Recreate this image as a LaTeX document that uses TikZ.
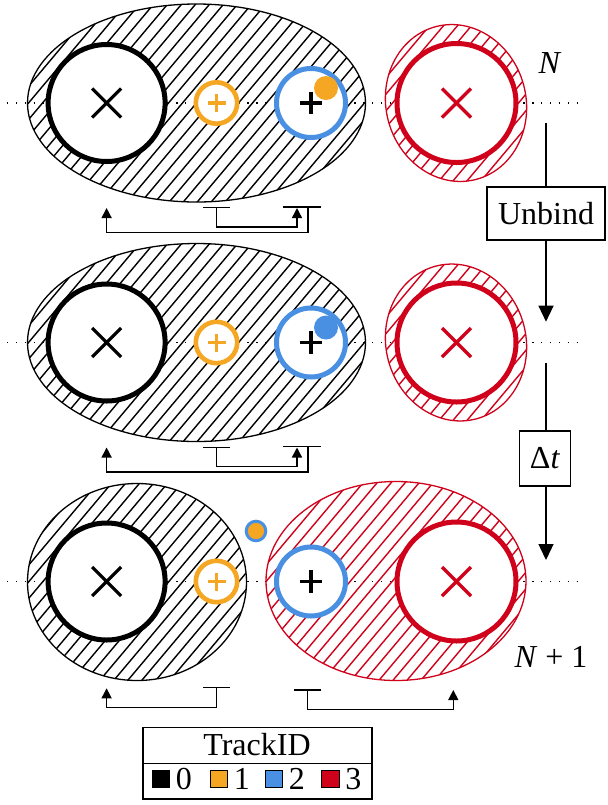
\documentclass[tikz,border=0pt]{standalone}
\usepackage{fontspec}
\setmainfont{Liberation Serif}
\usepackage{xcolor}
\definecolor{corange}{RGB}{245,166,35}
\definecolor{cblue}{RGB}{74,144,226}
\definecolor{cred}{RGB}{208,2,27}
\usepackage{tikz}
\usetikzlibrary{arrows.meta, positioning}
\tikzset{
Track/.style={
	draw, circle,
	fill=white,
	inner sep=0pt
},
Track0/.style={
	Track,
	draw=black, line width=2.5pt,
	minimum size=58.5pt
},
Track1/.style={
	Track,
	draw=corange, line width=2.3pt,
	minimum size=20.7pt
},
Track2/.style={
	Track,
	draw=cblue, line width=2.5pt,
	minimum size=34.5pt
},
Track3/.style={
	Track,
	draw=cred, line width=2.5pt,
	minimum size=59.5pt
},
Dot/.style={
	circle, inner sep=0pt,
	minimum size=12pt
},
Hatch/.style={line width=0.7pt},
Region/.style={line width=0.65pt},
Axis/.style={line width=0.7pt, dash pattern=on 0.7pt off 3.75pt},
Cross/.style={line width=1.65pt},
Plus/.style={line width=1.9pt},
Link/.style={
	line width=0.7pt,
	{Bar[width=13.5pt]}-{Triangle[length=5pt,width=5pt]}
},
StepBox/.style={
	draw, line width=0.65pt,
	inner sep=0pt
},
Flow/.style={line width=0.65pt},
FlowArrow/.style={Flow, -{Triangle[length=8pt,width=7.5pt]}},
Key/.style={
	draw, line width=0.6pt,
	minimum size=8.8pt, inner sep=0pt
},
KeyLabel/.style={inner sep=0pt}
}
% hatched region: colour, x, y, ellipse options
\newcommand{\hatchregion}[4]{%
	\begin{scope}
		\clip (#2,#3) ellipse [#4];
		\foreach \c in {-190,-176,...,600}
			\draw[Hatch, #1] (\c,#3+110) -- ++(185,-220);
	\end{scope}
	\draw[Region, #1] (#2,#3) ellipse [#4];
}

\begin{document}
\begin{tikzpicture}[x=0.5pt, y=-0.5pt, font=\fontsize{16}{19}\selectfont]
	\useasboundingbox (0,0) rectangle (608,805);

	\foreach \i/\yc/\dotc in {1/103/corange, 2/342.5/cblue}{
		\draw[Axis] (7,\yc) -- (579,\yc);
		\hatchregion{black}{196.5}{\yc}{x radius=169, y radius=99}
		\hatchregion{cred}{456}{\yc}{x radius=70, y radius=79, rotate=15}

		\node[Track0] (k\i) at (106.6,\yc) {};
		\node[Track1] (o\i) at (216.5,\yc) {};
		\node[Track2] (b\i) at (311,\yc) {};
		\node[Track3] (r\i) at (456.5,\yc) {};

		\draw[Cross] (k\i.center) +(-14.5,-14.5) -- +(14.5,14.5) +(-14.5,14.5) -- +(14.5,-14.5);
		\draw[Cross, cred] (r\i.center) +(-14.5,-14.5) -- +(14.5,14.5) +(-14.5,14.5) -- +(14.5,-14.5);
		\draw[Plus, corange, line width=1.6pt] (o\i.center) +(-9,0) -- +(9,0) +(0,-9) -- +(0,9);
		\draw[Plus] (b\i.center) +(-11.3,0) -- +(11.3,0) +(0,-11.3) -- +(0,11.3);
		\node[Dot, fill=\dotc] (d\i) at (326,\yc-15) {};

		\draw[Link] (216.5,\yc+104) |- (297,\yc+124) -- (297,\yc+105);
		\draw[Link, -{Triangle[length=5pt,width=5pt]}] (283,\yc+104) -- (321,\yc+104)
			(308,\yc+104) |- (106.6,\yc+129.5) -- (106.6,\yc+105);
	}

	\draw[Axis] (7,581.5) -- (579,581.5);
	\hatchregion{black}{137}{582}{x radius=109.5, y radius=98.5}
	\hatchregion{cred}{396}{581}{x radius=130, y radius=99.5}

	\node[Track0] (k3) at (106.6,581.5) {};
	\node[Track1] (o3) at (216.5,581.5) {};
	\node[Track2] (b3) at (311,581.5) {};
	\node[Track3] (r3) at (456.5,581.5) {};

	\draw[Cross] (k3.center) +(-14.5,-14.5) -- +(14.5,14.5) +(-14.5,14.5) -- +(14.5,-14.5);
	\draw[Cross, cred] (r3.center) +(-14.5,-14.5) -- +(14.5,14.5) +(-14.5,14.5) -- +(14.5,-14.5);
	\draw[Plus, corange, line width=1.6pt] (o3.center) +(-9,0) -- +(9,0) +(0,-9) -- +(0,9);
	\draw[Plus] (b3.center) +(-11.3,0) -- +(11.3,0) +(0,-11.3) -- +(0,11.3);
	\node[Dot, fill=corange, draw=cblue, line width=1.5pt, minimum size=9.8pt] (d3) at (256,531) {};

	\draw[Link] (216.5,686.7) |- (106.6,707.7) -- (106.6,688.3);
	\draw[Link] (307.7,689.3) |- (453.3,709.3) -- (453.3,690);

	\node (n0) at (550,63) {\textit{N}};
	\node (n1) at (551,657) {\textit{N} + 1};

	\coordinate (u0) at (546,123);
	\node[StepBox, minimum width=59pt, minimum height=26.5pt] (unbind) at (546,213.5) {Unbind};
	\coordinate (u1) at (546,321.7);
	\draw[Flow] (u0) -- (unbind);
	\draw[FlowArrow] (unbind) -- (u1);

	\coordinate (t0) at (546,363);
	\node[StepBox, minimum width=25.5pt, minimum height=27.5pt] (dt) at (545,458.5) {Δ\textit{t}};
	\coordinate (t1) at (546,560);
	\draw[Flow] (t0) -- (t0 |- dt.north);
	\draw[FlowArrow] (t0 |- dt.south) -- (t1);

	\node[draw, line width=0.7pt, minimum width=114.6pt, minimum height=35.9pt, inner sep=0pt] (legend) at (257.4,763.2) {};
	\draw[line width=0.7pt] (legend.west) -- (legend.east);
	\node (title) at (257,745) {TrackID};
	\node[Key, fill=black] (q0) at (161,779) {};
	\node[KeyLabel, right=2.5pt of q0] (l0) {0};
	\node[Key, fill=corange] (q1) at (219,779) {};
	\node[KeyLabel, right=2.5pt of q1] (l1) {1};
	\node[Key, fill=cblue] (q2) at (274,779) {};
	\node[KeyLabel, right=2.5pt of q2] (l2) {2};
	\node[Key, fill=cred] (q3) at (330.5,779) {};
	\node[KeyLabel, right=2.5pt of q3] (l3) {3};
\end{tikzpicture}
\end{document}
